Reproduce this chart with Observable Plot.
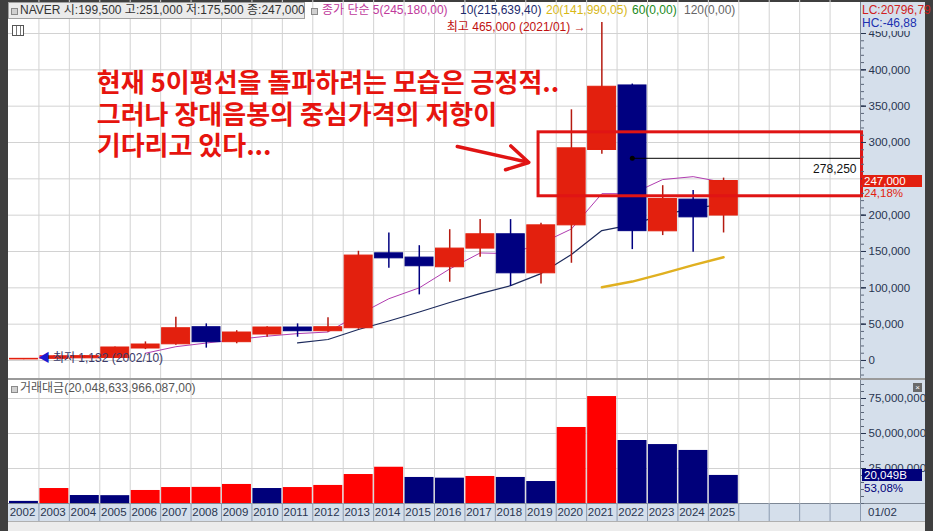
<!DOCTYPE html>
<html><head><meta charset="utf-8">
<script src="https://cdn.jsdelivr.net/npm/d3@7"></script>
<script src="https://cdn.jsdelivr.net/npm/@observablehq/plot@0.6"></script>
<style>
body{margin:0;background:#3f3f3f;}
#wrap{position:relative;width:933px;height:531px;background:#3f3f3f;overflow:hidden;font-family:"Liberation Sans","Noto Sans CJK KR",sans-serif;font-size:12px;}
.abs{position:absolute;white-space:nowrap;}
svg{position:absolute;}
</style></head><body><div id="wrap"></div>
<script>
// ---------- data ----------
const years = [2002,2003,2004,2005,2006,2007,2008,2009,2010,2011,2012,2013,2014,2015,2016,2017,2018,2019,2020,2021,2022,2023,2024,2025];
const openPrice  = [1500,2300,3000,3400,16500,22300,45800,25200,35750,45400,40300,44400,147500,141600,128300,154000,173700,120000,186000,289700,378500,177800,221400,199500];
const highPrice  = [2500,6500,6800,18500,25600,59500,50400,41000,46500,50400,58700,150300,175600,158000,180000,193900,193900,188800,345000,465000,380400,240600,233800,251000];
const lowPrice   = [1132,2000,2800,3000,15000,21000,17000,23000,32000,32000,39000,43000,126900,90300,107700,142000,102000,105400,133800,284000,152600,171900,149000,175500];
const closePrice = [2300,5800,6000,17900,22000,44400,25200,38500,45400,40300,45800,144400,140600,129700,154000,173700,120000,186000,292000,376700,178000,222300,197000,247000];
const ma5  = [null,null,null,null,10000,19000,24000,29000,33500,37000,39200,63000,85000,100000,126000,148000,147000,161000,181000,229600,229600,249000,253000,245180];
const ma10 = [null,null,null,null,null,null,null,null,null,24300,28900,42600,54300,66700,79800,92000,103000,119600,145800,178800,187000,200700,209000,215639];
const ma20 = [null,null,null,null,null,null,null,null,null,null,null,null,null,null,null,null,null,null,null,100800,108600,119600,131300,141990];
const tradeValue = [1500000,10700000,5700000,5600000,9300000,11400000,11500000,13600000,10700000,11400000,12900000,20700000,25900000,18600000,18100000,19300000,18600000,15700000,54300000,76400000,45000000,42100000,37900000,20048634];
const priceTicks = [0,50000,100000,150000,200000,250000,300000,350000,400000,450000];
const priceLabelTicks = [0,50000,100000,150000,200000,300000,350000,400000,450000]; // 250,000 hidden behind the current-price box
const valueTicks = [25000000,50000000,75000000];
const yearLabels = years.map(String);

const annotText = "현재 5이평선을 돌파하려는 모습은 긍정적..\n그러나 장대음봉의 중심가격의 저항이\n기다리고 있다...";
const annotPos = {x:2004.9, y:340000};
const resistanceBox = {x1:2019.42, x2:2030.05, lo:226000, hi:314000};
const midLine = {x1:2022.5, x2:2030, value:278250, label:"278,250"};
const arrowSpec = {x1:2016.75, y1:294500, x2:2019.1, y2:272500};
const maxMark = {x:2021, y:465000, text:"최고 465,000 (2021/01) →"};
const minMark = {x:2003, y:1132, text:"최저 1,132 (2002/10)"};

// ---------- build ----------
const RED="#e3200e", NAVY="#000080", WICK_RED="#b51a10", VRED="#ff0000", VNAVY="#00007a";
const FONT = '"Liberation Sans","Noto Sans CJK KR",sans-serif';
const candles = years.map((year,i)=>({year, open:openPrice[i], high:highPrice[i], low:lowPrice[i], close:closePrice[i],
  ma5:ma5[i], ma10:ma10[i], ma20:ma20[i], value:tradeValue[i], prev: i ? tradeValue[i-1] : Infinity}));
const up = d => d.close >= d.open;
const xDomain = [2002, 2030];
const wrap = document.getElementById("wrap");
function box(css, html){const d=document.createElement("div");d.className="abs";Object.assign(d.style,css);if(html!=null)d.innerHTML=html;wrap.appendChild(d);return d;}

// backgrounds
box({left:"8px",top:"2px",width:"852px",height:"501px",background:"#ffffff"});
box({left:"860px",top:"2px",width:"65px",height:"501px",background:"#d5dfeb",borderLeft:"1px solid #7d8795",boxSizing:"border-box"});
box({left:"8px",top:"503px",width:"917px",height:"18px",background:"#d5dfeb",borderTop:"1px solid #7d8795",boxSizing:"border-box"});
box({left:"8px",top:"521px",width:"917px",height:"10px",background:"#ececec",borderTop:"1px solid #b0b0b0",boxSizing:"border-box"});

// price panel
const price = Plot.plot({
  width:917, height:378, marginLeft:0, marginRight:65, marginTop:0, marginBottom:0,
  x:{domain:xDomain, axis:null, label:null},
  y:{domain:[-24771,495413], label:null},
  color:{type:"identity"},
  style:{background:"transparent", fontFamily:FONT, fontSize:"12px", overflow:"hidden"},
  marks:[
    Plot.ruleX(d3.range(2003,2030), {stroke:"#d2d2d2"}),
    Plot.ruleY(priceTicks, {stroke:"#d2d2d2"}),
    Plot.line(candles.filter(d=>d.ma5!=null), {x:d=>d.year+0.5, y:"ma5", stroke:"#b03cb0", strokeWidth:1}),
    Plot.line(candles.filter(d=>d.ma10!=null), {x:d=>d.year+0.5, y:"ma10", stroke:"#1c2a5c", strokeWidth:1.2}),
    Plot.line(candles.filter(d=>d.ma20!=null), {x:d=>d.year+0.5, y:"ma20", stroke:"#e0b020", strokeWidth:2.5}),
    Plot.ruleX(candles, {x:d=>d.year+0.5, y1:"low", y2:"high", stroke:d=>up(d)?WICK_RED:NAVY, strokeWidth:1.5}),
    Plot.rect(candles, {x1:d=>d.year, x2:d=>d.year+1, y1:"open", y2:"close", fill:d=>up(d)?RED:NAVY, stroke:d=>up(d)?RED:NAVY, strokeWidth:1, insetLeft:1.5, insetRight:1}),
    Plot.rect([resistanceBox], {x1:"x1", x2:"x2", y1:"lo", y2:"hi", fill:"none", stroke:"#e01414", strokeWidth:3}),
    Plot.ruleY([midLine], {x1:"x1", x2:"x2", y:"value", stroke:"#000", strokeWidth:1}),
    Plot.dot([midLine], {x:"x1", y:"value", r:2.5, fill:"#000"}),
    Plot.text([midLine], {x:"x2", y:"value", text:"label", textAnchor:"end", dx:-4, dy:11, fontSize:12, fill:"#111"}),
    Plot.arrow([arrowSpec], {x1:"x1", y1:"y1", x2:"x2", y2:"y2", stroke:"#e01414", strokeWidth:3.5, headLength:16}),
    Plot.text([annotPos], {x:"x", y:"y", text:()=>annotText, textAnchor:"start", lineAnchor:"middle", lineHeight:1.22, fontSize:26, fontWeight:"bold", fill:"#e6140e", fontFamily:'"Noto Sans CJK KR",sans-serif', ariaLabel:"annot"}),
    Plot.text([maxMark], {x:"x", y:"y", text:"text", textAnchor:"end", dx:-1, dy:5, fontSize:12, fill:"#c01010"}),
    Plot.text([minMark], {x:"x", y:"y", text:()=>"◀", textAnchor:"start", dx:-1, dy:-2, fontSize:12, fill:"#1a1ad0"}),
    Plot.text([minMark], {x:"x", y:"y", text:"text", textAnchor:"start", dx:14, dy:-2, fontSize:12, fill:"#3a3a6a"}),
    Plot.axisY(d3.range(-20000,490001,10000), {anchor:"right", tickSize:3, tickFormat:()=>"", color:"#5a6578"}),
    Plot.axisY(priceTicks, {anchor:"right", tickSize:5, tickFormat:()=>"", color:"#283550"}),
    Plot.axisY(priceLabelTicks, {anchor:"right", tickSize:5, tickPadding:3, tickFormat:d3.format(","), fontSize:11.5, color:"#283550"})
  ]
});
price.style.left="8px"; price.style.top="0px";
wrap.appendChild(price);
d3.select(price).selectAll('g[aria-label="annot"] text').style("word-spacing","5px");

// separator
box({left:"8px",top:"378px",width:"917px",height:"2px",background:"#9a9a9a"});

// volume panel
const vol = Plot.plot({
  width:917, height:125, marginLeft:0, marginRight:65, marginTop:0, marginBottom:0,
  x:{domain:xDomain, axis:null, label:null},
  y:{domain:[-1428571,87857143], label:null},
  color:{type:"identity"},
  style:{background:"transparent", fontFamily:FONT, fontSize:"12px", overflow:"hidden"},
  marks:[
    Plot.ruleX(d3.range(2003,2030), {stroke:"#d2d2d2"}),
    Plot.ruleY(valueTicks, {stroke:"#d2d2d2"}),
    Plot.rect(candles, {x1:d=>d.year, x2:d=>d.year+1, y1:0, y2:"value", fill:d=>d.value>d.prev?VRED:VNAVY, insetLeft:1, insetRight:0.5}),
    Plot.axisY(d3.range(0,87000001,5000000), {anchor:"right", tickSize:3, tickFormat:()=>"", color:"#5a6578"}),
    Plot.axisY(valueTicks, {anchor:"right", tickSize:5, tickPadding:3, tickFormat:d3.format(","), fontSize:11.5, color:"#283550"})
  ]
});
vol.style.left="8px"; vol.style.top="380px";
wrap.appendChild(vol);

// x axis row
const xrow = Plot.plot({
  width:917, height:18, marginLeft:0, marginRight:65, marginTop:0, marginBottom:0,
  x:{domain:xDomain, axis:null, label:null},
  style:{background:"transparent", fontFamily:FONT, fontSize:"12px"},
  marks:[
    Plot.ruleX(d3.range(2003,2031), {stroke:"#8c9bb0"}),
    Plot.text(years, {x:d=>d+0.04, text:(d,i)=>yearLabels[i], frameAnchor:"middle", textAnchor:"start", fontSize:11.5, fill:"#283550"})
  ]
});
xrow.style.left="8px"; xrow.style.top="503px";
wrap.appendChild(xrow);

// ---------- overlays ----------
const yP = v => price.scale("y").apply(v);
const yV = v => 380 + vol.scale("y").apply(v);
const last = candles[candles.length-1];
box({left:"862px",top:(yP(last.close)-6)+"px",width:"60px",height:"12px",lineHeight:"12px",background:"#e21f0f",color:"#fff",fontSize:"11.5px",paddingLeft:"2px",boxSizing:"border-box"}, "247,000");
box({left:"864px",top:(yP(last.close)+6)+"px",color:"#e21f0f",fontSize:"11.5px",lineHeight:"12px"}, "24,18%");
box({left:"862px",top:(yV(last.value)-6)+"px",width:"60px",height:"12px",lineHeight:"12px",background:"#00007a",color:"#fff",fontSize:"11.5px",paddingLeft:"2px",boxSizing:"border-box"}, "20,049B");
box({left:"864px",top:(yV(last.value)+7)+"px",color:"#00007a",fontSize:"11.5px",lineHeight:"12px"}, "53,08%");
box({left:"861px",top:"2px",width:"64px",height:"29px",background:"#d5dfeb"});
box({left:"862px",top:"4px",color:"#d02020",fontSize:"12px",lineHeight:"13px"}, "LC:20796,79");
box({left:"862px",top:"17px",color:"#2030b0",fontSize:"12px",lineHeight:"13px"}, "HC:-46,88");
box({left:"868px",top:"505px",color:"#283550",fontSize:"11.5px",lineHeight:"14px"}, "01/02");
box({left:"913px",top:"383px",width:"9px",height:"9px",background:"#6a6a6a",color:"#fff",fontSize:"8px",lineHeight:"9px",textAlign:"center"}, "×");

// legend row
box({left:"8px",top:"2px",width:"297px",height:"17px",background:"#ebebeb",border:"1px solid #a0a0a0",boxSizing:"border-box"});
const sq = (x,y)=>box({left:x+"px",top:y+"px",width:"5px",height:"5px",border:"1px solid #8a8a8a",background:"#d0d0d0"});
sq(11,8); sq(311,8);
box({left:"20px",top:"3px",color:"#333",fontSize:"12px",lineHeight:"15px"}, "NAVER 시:199,500 고:251,000 저:175,500 종:247,000");
box({left:"322px",top:"3px",color:"#c03a9c",fontSize:"12px",lineHeight:"15px"}, "종가 단순 5(245,180,00)");
box({left:"460px",top:"3px",color:"#1c2a6c",fontSize:"12px",lineHeight:"15px"}, "10(215,639,40)");
box({left:"546px",top:"3px",color:"#d8b818",fontSize:"12px",lineHeight:"15px"}, "20(141,990,05)");
box({left:"632px",top:"3px",color:"#208a20",fontSize:"12px",lineHeight:"15px"}, "60(0,00)");
box({left:"684px",top:"3px",color:"#666",fontSize:"12px",lineHeight:"15px"}, "120(0,00)");
// table icon
box({left:"12px",top:"25px",width:"12px",height:"11px",border:"1px solid #555",boxSizing:"border-box",
  background:"repeating-linear-gradient(90deg,#fff 0 3px,#777 3px 4px),#fff"});
// volume header
sq(11,386);
box({left:"20px",top:"381px",color:"#555",fontSize:"12px",lineHeight:"15px"}, "거래대금(20,048,633,966,087,00)");
</script></body></html>
